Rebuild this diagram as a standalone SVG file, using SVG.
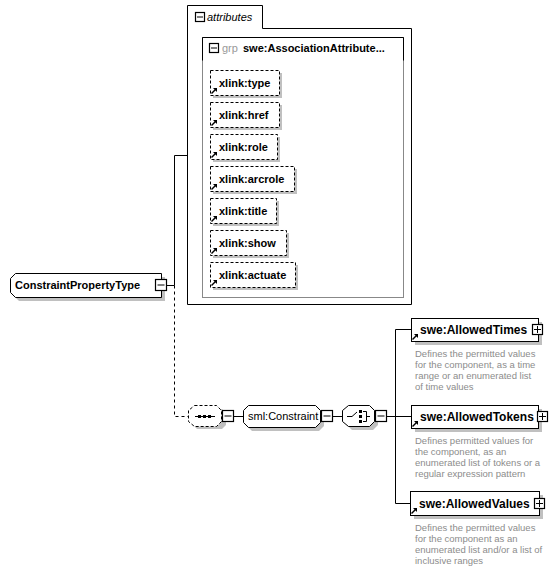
<svg xmlns="http://www.w3.org/2000/svg" width="558" height="571" viewBox="0 0 558 571">
<defs>
<style>
.lbl{font-family:"Liberation Sans",Arial,sans-serif;font-size:11px;font-weight:bold;fill:#000}
.big{font-family:"Liberation Sans",Arial,sans-serif;font-size:12px;font-weight:bold;fill:#000}
.desc{font-family:"Liberation Sans",Arial,sans-serif;font-size:9.5px;fill:#8c8c8c}
.box{fill:#fff;stroke:#000;stroke-width:1}
.dash{fill:#fff;stroke:#000;stroke-width:1;stroke-dasharray:3,2}
.sh{fill:#c0c0c0;stroke:none}
.ln{fill:none;stroke:#000;stroke-width:1}
.dln{fill:none;stroke:#000;stroke-width:1;stroke-dasharray:3,3}
.btn{fill:#fff;stroke:#000;stroke-width:1.2}
</style>
<g id="ref">
<path d="M1.5,-1.5 L-2.5,2.5" stroke="#000" stroke-width="1.4" fill="none"/>
<path d="M-1,-3 L3,-3 L3,1 Z" fill="#000"/>
</g>
</defs>

<g id="connectors">
<path class="ln" d="M166.5,285.5 H174.5 V155.5 H187"/>
<path class="dln" d="M174.5,285.5 V416.5 H188"/>
<path class="ln" d="M232,416.5 H243"/>
<path class="ln" d="M331,416.5 H342"/>
<path class="ln" d="M385,416.5 H395.5"/>
<path class="ln" d="M395.5,329.5 V503.5"/>
<path class="ln" d="M395.5,329.5 H411"/>
<path class="ln" d="M395.5,416.5 H411"/>
<path class="ln" d="M395.5,503.5 H410"/>
</g>

<g id="attributes">
<path d="M187.5,304.5 V5.5 H262.5 V28.5 H411.5 V304.5 Z" fill="#fff" stroke="#000"/>
<rect class="btn" x="195.5" y="12.5" width="9" height="9"/>
<path class="ln" d="M197,17 H203"/>
<text x="207" y="21" style="font-family:'Liberation Sans',Arial,sans-serif;font-size:11px;font-style:italic;fill:#000">attributes</text>
</g>

<g id="grp">
<rect x="202.5" y="37.5" width="201" height="260" fill="#fff" stroke="#888"/>
<path class="ln" d="M202.5,60.5 V37.5 H403.5 V60.5"/>
<rect class="btn" x="209.5" y="43.5" width="9" height="9"/>
<path class="ln" d="M211,48 H217"/>
<text x="222" y="52" style="font-family:'Liberation Sans',Arial,sans-serif;font-size:11px;fill:#999">grp</text>
<text x="243" y="52" class="lbl">swe:AssociationAttribute...</text>
</g>

<g id="xlink-type">
<rect class="sh" x="213" y="73" width="69" height="25"/>
<rect class="dash" x="210.5" y="70.5" width="69" height="25"/>
<use href="#ref" x="214" y="91"/>
<text x="219" y="87" class="lbl">xlink:type</text>
</g>
<g id="xlink-href">
<rect class="sh" x="213" y="105" width="69" height="25"/>
<rect class="dash" x="210.5" y="102.5" width="69" height="25"/>
<use href="#ref" x="214" y="123"/>
<text x="219" y="119" class="lbl">xlink:href</text>
</g>
<g id="xlink-role">
<rect class="sh" x="213" y="137" width="67" height="25"/>
<rect class="dash" x="210.5" y="134.5" width="67" height="25"/>
<use href="#ref" x="214" y="155"/>
<text x="219" y="151" class="lbl">xlink:role</text>
</g>
<g id="xlink-arcrole">
<rect class="sh" x="213" y="169" width="84" height="25"/>
<rect class="dash" x="210.5" y="166.5" width="84" height="25"/>
<use href="#ref" x="214" y="187"/>
<text x="219" y="183" class="lbl">xlink:arcrole</text>
</g>
<g id="xlink-title">
<rect class="sh" x="213" y="201" width="66" height="25"/>
<rect class="dash" x="210.5" y="198.5" width="66" height="25"/>
<use href="#ref" x="214" y="219"/>
<text x="219" y="215" class="lbl">xlink:title</text>
</g>
<g id="xlink-show">
<rect class="sh" x="213" y="233" width="76" height="25"/>
<rect class="dash" x="210.5" y="230.5" width="76" height="25"/>
<use href="#ref" x="214" y="251"/>
<text x="219" y="247" class="lbl">xlink:show</text>
</g>
<g id="xlink-actuate">
<rect class="sh" x="213" y="265" width="85" height="25"/>
<rect class="dash" x="210.5" y="262.5" width="85" height="25"/>
<use href="#ref" x="214" y="283"/>
<text x="219" y="279" class="lbl">xlink:actuate</text>
</g>

<g id="ConstraintPropertyType">
<path class="sh" d="M19,277 H165 V301 H19 L14,296 V282 Z"/>
<path class="box" d="M15.5,273.5 H161.5 V297.5 H15.5 L10.5,292.5 V278.5 Z"/>
<text x="15" y="289" class="lbl">ConstraintPropertyType</text>
<rect class="btn" x="155.5" y="279.5" width="11" height="11"/>
<path class="ln" d="M157.5,285 H164.5"/>
</g>

<g id="sequence">
<path class="sh" d="M197,409 H222 L226,413 V425 L222,429 H197 L193,425 V413 Z"/>
<path class="dash" d="M194.5,405.5 H216.5 L221.5,410.5 V421.5 L216.5,426.5 H194.5 L188.5,421.5 V410.5 Z"/>
<path class="ln" d="M195,416.5 H215"/>
<rect x="198" y="415" width="3" height="3" fill="#000"/>
<rect x="203" y="415" width="3" height="3" fill="#000"/>
<rect x="208" y="415" width="3" height="3" fill="#000"/>
<rect class="btn" x="222.5" y="410.5" width="11" height="11"/>
<path class="ln" d="M224.5,416 H231.5"/>
</g>

<g id="sml-Constraint">
<path class="sh" d="M252,409 H319 L324,414 V426 L319,431 H252 L247,426 V414 Z"/>
<path class="box" d="M248.5,405.5 H315.5 L320.5,410.5 V422.5 L315.5,427.5 H248.5 L243.5,422.5 V410.5 Z"/>
<text x="248" y="420" style="font-family:'Liberation Sans',Arial,sans-serif;font-size:11px;fill:#000">sml:Constraint</text>
<rect class="btn" x="321.5" y="410.5" width="11" height="11"/>
<path class="ln" d="M323.5,416 H330.5"/>
</g>

<g id="choice">
<path class="sh" d="M352,409 H373 L378,414 V425 L373,430 H352 L347,425 V414 Z"/>
<path class="box" d="M348.5,405.5 H369.5 L374.5,410.5 V421.5 L369.5,426.5 H348.5 L342.5,421.5 V410.5 Z"/>
<path class="ln" d="M347,416.5 H352 L357,412"/>
<rect x="359" y="410" width="3" height="3" fill="#000"/>
<rect x="359" y="415" width="3" height="3" fill="#000"/>
<rect x="359" y="420" width="3" height="3" fill="#000"/>
<path class="ln" d="M363,411.5 H366.5 V421.5 H363 M366.5,416.5 H370"/>
<rect class="btn" x="375.5" y="410.5" width="11" height="11"/>
<path class="ln" d="M377.5,416 H384.5"/>
</g>

<g id="AllowedTimes">
<rect class="sh" x="415" y="322" width="127" height="23"/>
<rect class="box" x="411.5" y="318.5" width="127" height="23"/>
<use href="#ref" x="415" y="337"/>
<text x="420" y="334" class="big">swe:AllowedTimes</text>
<rect class="btn" x="532.5" y="324.5" width="10" height="10"/>
<path class="ln" d="M534,329.5 H541 M537.5,326 V333"/>
<text class="desc"><tspan x="415" y="357">Defines the permitted values</tspan><tspan x="415" y="368">for the component, as a time</tspan><tspan x="415" y="379">range or an enumerated list</tspan><tspan x="415" y="390">of time values</tspan></text>
</g>

<g id="AllowedTokens">
<rect class="sh" x="415" y="409" width="127" height="23"/>
<rect class="box" x="411.5" y="405.5" width="127" height="23"/>
<use href="#ref" x="415" y="424"/>
<text x="420" y="421" class="big">swe:AllowedTokens</text>
<rect class="btn" x="537.5" y="411.5" width="10" height="10"/>
<path class="ln" d="M539,416.5 H546 M542.5,413 V420"/>
<text class="desc"><tspan x="415" y="444">Defines permitted values for</tspan><tspan x="415" y="455">the component, as an</tspan><tspan x="415" y="466">enumerated list of tokens or a</tspan><tspan x="415" y="477">regular expression pattern</tspan></text>
</g>

<g id="AllowedValues">
<rect class="sh" x="414" y="495" width="129" height="24"/>
<rect class="box" x="410.5" y="491.5" width="129" height="24"/>
<use href="#ref" x="414" y="511"/>
<text x="419" y="508" class="big">swe:AllowedValues</text>
<rect class="btn" x="534.5" y="498.5" width="10" height="10"/>
<path class="ln" d="M536,503.5 H543 M539.5,500 V507"/>
<text class="desc"><tspan x="415" y="531">Defines the permitted values</tspan><tspan x="415" y="542">for the component as an</tspan><tspan x="415" y="553">enumerated list and/or a list of</tspan><tspan x="415" y="564">inclusive ranges</tspan></text>
</g>
</svg>
